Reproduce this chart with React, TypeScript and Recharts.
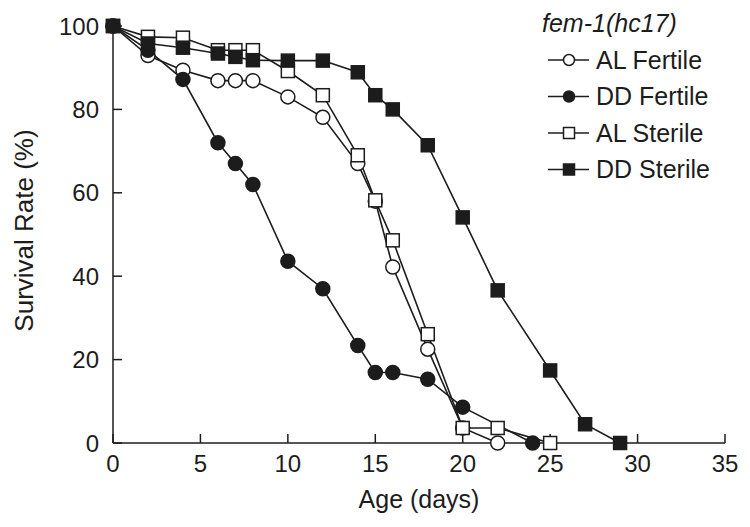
import React from 'react'
import { LineChart, Line, XAxis, YAxis, Legend } from 'recharts'

// survival data (x = age in days, y = survival %)
const alFertileDays = [0, 2, 4, 6, 7, 8, 10, 12, 14, 15, 16, 18, 20, 22]
const alFertileRate = [100, 92.9, 89.4, 86.9, 86.9, 86.9, 83.0, 78.1, 67.0, 58.0, 42.2, 22.5, 3.6, 0]

const ddFertileDays = [0, 2, 4, 6, 7, 8, 10, 12, 14, 15, 16, 18, 20, 24]
const ddFertileRate = [100, 94.2, 87.2, 72.0, 67.0, 62.0, 43.6, 37.0, 23.4, 16.9, 16.9, 15.3, 8.6, 0]

const alSterileDays = [0, 2, 4, 6, 7, 8, 10, 12, 14, 15, 16, 18, 20, 22, 25]
const alSterileRate = [100, 97.4, 97.2, 94.2, 94.2, 94.2, 89.2, 83.4, 69.0, 58.2, 48.6, 26.1, 3.6, 3.6, 0]

const ddSterileDays = [0, 2, 4, 6, 7, 8, 10, 12, 14, 15, 16, 18, 20, 22, 25, 27, 29]
const ddSterileRate = [100, 95.8, 94.8, 93.4, 92.6, 91.8, 91.7, 91.7, 88.9, 83.4, 80.0, 71.4, 54.1, 36.6, 17.4, 4.5, 0]

const xTicks = [0, 5, 10, 15, 20, 25, 30, 35]
const yTicks = [0, 20, 40, 60, 80, 100]

const ink = '#1c1c1c'
const font = '"Liberation Sans", Arial, Helvetica, sans-serif'

const toRows = (days: number[], rates: number[]) => days.map((d, i) => ({ day: d, rate: rates[i] }))

type Shape = 'circle' | 'square'

const series = [
   { name: 'AL Fertile', shape: 'circle' as Shape, filled: false, data: toRows(alFertileDays, alFertileRate) },
   { name: 'DD Fertile', shape: 'circle' as Shape, filled: true, data: toRows(ddFertileDays, ddFertileRate) },
   { name: 'AL Sterile', shape: 'square' as Shape, filled: false, data: toRows(alSterileDays, alSterileRate) },
   { name: 'DD Sterile', shape: 'square' as Shape, filled: true, data: toRows(ddSterileDays, ddSterileRate) },
]

function Marker({ cx, cy, shape, filled, size }: { cx: number; cy: number; shape: Shape; filled: boolean; size: number }) {
   const fill = filled ? ink : '#fff'
   if (shape === 'circle') {
      return <circle cx={cx} cy={cy} r={size / 2} fill={fill} stroke={ink} strokeWidth={1.5} />
   }
   return <rect x={cx - size / 2} y={cy - size / 2} width={size} height={size} fill={fill} stroke={ink} strokeWidth={1.5} />
}

const makeDot = (shape: Shape, filled: boolean) => (props: any) => {
   const { cx, cy, index } = props
   return (
      <g key={`dot-${index}`}>
         <Marker cx={cx} cy={cy} shape={shape} filled={filled} size={shape === 'circle' ? 14 : 13} />
      </g>
   )
}

const renderLegend = () => (
   <svg width={210} height={185} style={{ display: 'block', overflow: 'visible' }}>
      <text x={2} y={32} fontSize={25} fontStyle='italic' fill={ink} fontFamily={font}>fem-1(hc17)</text>
      {series.map((s, i) => {
         const mid = 60 + i * 36.5
         return (
            <g key={s.name}>
               <line x1={8} x2={49} y1={mid} y2={mid} stroke={ink} strokeWidth={1.5} />
               <Marker cx={29} cy={mid} shape={s.shape} filled={s.filled} size={11} />
               <text x={56} y={mid + 8.5} fontSize={25} fill={ink} fontFamily={font}>{s.name}</text>
            </g>
         )
      })}
   </svg>
)

export default function App() {
   return (
      <div style={{ position: 'absolute', left: 0, top: 0, width: 750, height: 527, background: '#fff' }}>
         <LineChart width={750} height={527} margin={{ top: 26, right: 25, left: 0, bottom: 0 }}>
            <XAxis
               type='number'
               dataKey='day'
               domain={[0, 35]}
               ticks={xTicks}
               interval={0}
               height={84}
               tickSize={-9}
               tickMargin={21}
               axisLine={{ stroke: ink, strokeWidth: 1.5 }}
               tickLine={{ stroke: ink, strokeWidth: 1.5 }}
               tick={{ fill: ink, fontSize: 24, fontFamily: font }}
               label={{
                  content: (p: any) => {
                     const vb = p.viewBox
                     return (
                        <text x={vb.x + vb.width / 2} y={508} textAnchor='middle' fontSize={25} fill={ink} fontFamily={font}>
                           Age (days)
                        </text>
                     )
                  },
               }}
            />
            <YAxis
               type='number'
               domain={[0, 100]}
               ticks={yTicks}
               interval={0}
               width={113}
               tickSize={-9}
               tickMargin={23}
               axisLine={{ stroke: ink, strokeWidth: 1.5 }}
               tickLine={{ stroke: ink, strokeWidth: 1.5 }}
               tick={{ fill: ink, fontSize: 24, fontFamily: font }}
               label={{
                  content: (p: any) => {
                     const vb = p.viewBox
                     const cy = vb.y + vb.height / 2 - 4
                     return (
                        <text x={33} y={cy} transform={`rotate(-90 33 ${cy})`} textAnchor='middle' fontSize={26} fill={ink} fontFamily={font}>
                           Survival Rate (%)
                        </text>
                     )
                  },
               }}
            />
            <Legend
               layout='vertical'
               align='center'
               verticalAlign='middle'
               content={renderLegend}
               wrapperStyle={{ left: 540, top: 0, width: 210, height: 185 }}
            />
            {series.map((s) => (
               <Line
                  key={s.name}
                  name={s.name}
                  data={s.data}
                  dataKey='rate'
                  stroke={ink}
                  strokeWidth={1.6}
                  dot={makeDot(s.shape, s.filled)}
                  activeDot={false}
                  isAnimationActive={false}
               />
            ))}
         </LineChart>
      </div>
   )
}
